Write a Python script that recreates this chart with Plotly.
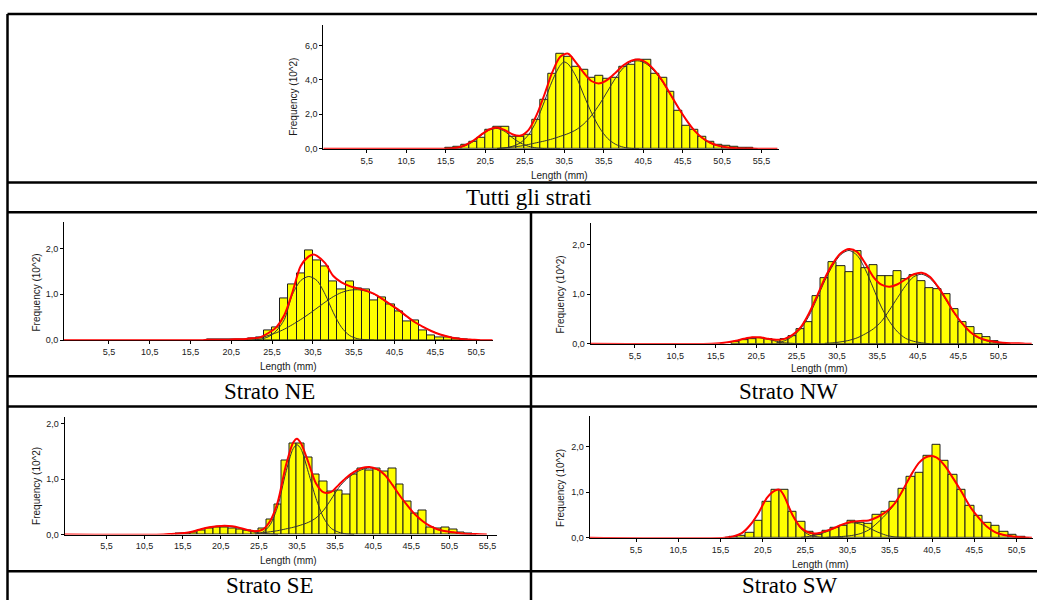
import plotly.graph_objects as go

W, H = 1037, 600

# ---------------- data (frequency in 10^2, length in mm) ----------------
# Tutti gli strati
A_LEN = list(range(16, 55))
A_FREQ = [0.04, 0.1, 0.23, 0.38, 0.62, 1.1, 1.29, 1.29, 0.72, 0.67, 0.8, 1.69, 2.87, 4.33,
          5.52, 5.35, 4.77, 4.56, 4.13, 4.23, 4.04, 4.13, 4.77, 4.85, 5.15, 5.15, 4.37, 4.13,
          3.33, 2.19, 1.35, 1.13, 0.67, 0.42, 0.25, 0.15, 0.1, 0.06, 0.05]
A_FIT_X = [0, 15, 16, 17, 18, 19, 20, 21, 22, 23, 24, 25, 26, 27, 28, 29, 30, 31, 32, 33, 34, 35,
           36, 37, 38, 39, 40, 41, 42, 43, 44, 45, 46, 47, 48, 49, 50, 51, 52, 53, 54, 55, 57.5]
A_FIT_Y = [0, 0, 0.01, 0.07, 0.22, 0.48, 0.82, 1.12, 1.24, 1.08, 0.83, 0.77, 1.1, 1.95, 3.15, 4.45,
           5.35, 5.52, 5.0, 4.4, 3.92, 3.8, 4.02, 4.42, 4.85, 5.12, 5.18, 4.98, 4.52, 3.9, 3.12,
           2.35, 1.65, 1.05, 0.62, 0.35, 0.18, 0.09, 0.04, 0.02, 0.01, 0, 0]
A_C1_X = [16, 17, 18, 19, 20, 21, 22, 23, 24, 25, 26, 27, 28, 29, 30]
A_C1_Y = [0.01, 0.05, 0.18, 0.42, 0.78, 1.08, 1.18, 1.0, 0.62, 0.33, 0.14, 0.05, 0.01, 0, 0]
A_C2_X = [22, 23, 24, 25, 26, 27, 28, 29, 30, 30.5, 31, 32, 33, 34, 35, 36, 37, 38, 39, 40]
A_C2_Y = [0.01, 0.05, 0.15, 0.36, 0.82, 1.62, 2.75, 3.95, 4.85, 5.04, 4.92, 4.2, 3.1, 2.05, 1.2,
          0.6, 0.26, 0.09, 0.02, 0]
A_C3_X = list(range(22, 56))
A_C3_Y = [0.02, 0.05, 0.1, 0.16, 0.25, 0.35, 0.45, 0.57, 0.72, 0.88, 1.1, 1.45, 1.95, 2.6, 3.35,
          4.1, 4.7, 5.05, 5.1, 4.9, 4.45, 3.85, 3.1, 2.35, 1.65, 1.05, 0.6, 0.33, 0.17, 0.08,
          0.03, 0.01, 0, 0]

# Strato NE
NE_LEN = list(range(18, 50))
NE_FREQ = [0.01, 0.01, 0.02, 0.02, 0.02, 0.03, 0.05, 0.21, 0.28, 0.92, 1.22, 1.45, 1.96, 1.74,
           1.62, 1.29, 1.1, 1.29, 1.14, 1.1, 0.86, 0.93, 0.77, 0.62, 0.41, 0.43, 0.21, 0.1,
           0.07, 0.06, 0.03, 0.01]
NE_FIT_X = [0, 17, 18, 19, 20, 21, 22, 23, 24, 25, 26, 27, 28, 29, 30, 30.6, 31, 32, 33, 34, 35,
            36, 37, 38, 39, 40, 41, 42, 43, 44, 45, 46, 47, 48, 49, 50, 51, 52.5]
NE_FIT_Y = [0, 0, 0.01, 0.01, 0.01, 0.02, 0.02, 0.04, 0.06, 0.15, 0.28, 0.55, 1.05, 1.62, 1.83,
            1.87, 1.84, 1.68, 1.4, 1.26, 1.18, 1.13, 1.08, 1.01, 0.9, 0.78, 0.66, 0.52, 0.39,
            0.29, 0.2, 0.13, 0.08, 0.04, 0.02, 0.01, 0, 0]
NE_C1_X = list(range(23, 39))
NE_C1_Y = [0, 0.02, 0.07, 0.2, 0.45, 1.0, 1.3, 1.39, 1.3, 1.0, 0.6, 0.28, 0.1, 0.03, 0.01, 0]
NE_C2_X = list(range(22, 52))
NE_C2_Y = [0.01, 0.03, 0.05, 0.1, 0.16, 0.24, 0.34, 0.45, 0.57, 0.7, 0.83, 0.95, 1.04, 1.09,
           1.1, 1.07, 1.0, 0.89, 0.77, 0.64, 0.51, 0.39, 0.29, 0.2, 0.13, 0.08, 0.04, 0.02,
           0.01, 0]

# Strato NW
NW_LEN = list(range(18, 52))
NW_FREQ = [0.03, 0.07, 0.1, 0.12, 0.1, 0.07, 0.09, 0.15, 0.29, 0.43, 0.97, 1.33, 1.65, 1.57,
           1.45, 1.87, 1.53, 1.59, 1.37, 1.37, 1.47, 1.3, 1.39, 1.27, 1.12, 1.1, 1.01, 0.69,
           0.43, 0.33, 0.2, 0.13, 0.05, 0.02]
NW_FIT_X = [0, 15] + list(range(16, 55)) + [54.6]
NW_FIT_Y = [0, 0, 0.01, 0.03, 0.06, 0.1, 0.13, 0.13, 0.1, 0.08, 0.1, 0.18, 0.33, 0.6, 0.95,
            1.32, 1.62, 1.83, 1.91, 1.85, 1.62, 1.35, 1.19, 1.15, 1.2, 1.3, 1.4, 1.43, 1.35,
            1.15, 0.9, 0.63, 0.41, 0.24, 0.13, 0.07, 0.04, 0.02, 0.01, 0.01, 0, 0]
NW_C1_X = list(range(16, 29))
NW_C1_Y = [0.01, 0.03, 0.06, 0.1, 0.13, 0.12, 0.09, 0.05, 0.02, 0.01, 0, 0, 0]
NW_C2_X = list(range(23, 43))
NW_C2_Y = [0.02, 0.06, 0.15, 0.3, 0.55, 0.9, 1.27, 1.58, 1.8, 1.88, 1.78, 1.5, 1.12, 0.74,
           0.45, 0.24, 0.11, 0.05, 0.02, 0]
NW_C3_X = list(range(29, 53))
NW_C3_Y = [0.01, 0.02, 0.04, 0.07, 0.12, 0.2, 0.3, 0.45, 0.68, 0.93, 1.17, 1.35, 1.4, 1.32,
           1.13, 0.88, 0.62, 0.4, 0.23, 0.12, 0.06, 0.03, 0.01, 0]

# Strato SE
SE_LEN = list(range(15, 54))
SE_FREQ = [0.01, 0.02, 0.04, 0.08, 0.11, 0.13, 0.13, 0.11, 0.09, 0.07, 0.05, 0.1, 0.27, 0.54,
           1.34, 1.64, 1.64, 1.39, 1.09, 0.95, 0.78, 0.79, 0.73, 1.09, 1.19, 1.16, 1.2, 1.13,
           1.19, 0.91, 0.59, 0.38, 0.44, 0.13, 0.1, 0.13, 0.09, 0.03, 0.01]
SE_FIT_X = [0, 13, 14, 15, 16, 17, 18, 19, 20, 21, 22, 23, 24, 25, 26, 27, 28, 29, 30, 30.5, 31,
            32, 33, 34, 35, 36, 37, 38, 39, 40, 41, 42, 43, 44, 45, 46, 47, 48, 49, 50, 51, 52,
            53, 54, 55.4]
SE_FIT_Y = [0, 0, 0.01, 0.02, 0.03, 0.06, 0.1, 0.13, 0.15, 0.16, 0.15, 0.12, 0.08, 0.06, 0.09,
            0.25, 0.6, 1.22, 1.66, 1.73, 1.65, 1.3, 0.92, 0.76, 0.77, 0.9, 1.03, 1.13, 1.2, 1.22,
            1.18, 1.08, 0.9, 0.7, 0.52, 0.36, 0.24, 0.15, 0.09, 0.06, 0.04, 0.02, 0.01, 0.01, 0]
SE_C1_X = list(range(14, 29))
SE_C1_Y = [0.01, 0.02, 0.03, 0.06, 0.1, 0.13, 0.15, 0.15, 0.14, 0.11, 0.07, 0.04, 0.02, 0.01, 0]
SE_C2_X = [25, 26, 27, 28, 29, 30, 30.5, 31, 32, 33, 34, 35, 36, 37, 38]
SE_C2_Y = [0.01, 0.04, 0.18, 0.52, 1.1, 1.55, 1.62, 1.55, 1.12, 0.65, 0.3, 0.11, 0.04, 0.01, 0]
SE_C3_X = list(range(26, 55))
SE_C3_Y = [0.03, 0.05, 0.07, 0.1, 0.13, 0.17, 0.22, 0.3, 0.44, 0.64, 0.85, 1.0, 1.1, 1.17, 1.2,
           1.17, 1.08, 0.9, 0.7, 0.52, 0.36, 0.24, 0.15, 0.09, 0.06, 0.04, 0.02, 0.01, 0]

# Strato SW
SW_LEN = list(range(17, 52))
SW_FREQ = [0.02, 0.05, 0.1, 0.38, 0.78, 1.04, 1.04, 0.56, 0.36, 0.12, 0.07, 0.16, 0.21, 0.27,
           0.38, 0.33, 0.3, 0.5, 0.56, 0.78, 1.07, 1.34, 1.43, 1.8, 2.03, 1.68, 1.37, 1.04, 0.7,
           0.48, 0.33, 0.27, 0.14, 0.07, 0.03]
SW_FIT_X = [0, 16, 17, 18, 19, 20, 21, 22, 22.5, 23, 24, 25, 26, 27, 28, 29, 30, 31, 32, 33, 34,
            35, 36, 37, 38, 39, 40, 41, 42, 43, 44, 45, 46, 47, 48, 49, 50, 51, 52.3]
SW_FIT_Y = [0, 0, 0.03, 0.1, 0.28, 0.55, 0.88, 1.04, 1.05, 0.92, 0.5, 0.22, 0.11, 0.1, 0.15,
            0.22, 0.3, 0.35, 0.37, 0.38, 0.45, 0.56, 0.73, 1.03, 1.37, 1.65, 1.78, 1.76, 1.58,
            1.3, 1.0, 0.68, 0.44, 0.24, 0.12, 0.06, 0.03, 0.01, 0]
SW_C1_X = [16, 17, 18, 19, 20, 21, 22, 22.5, 23, 24, 25, 26, 27, 28, 29, 30]
SW_C1_Y = [0.01, 0.03, 0.1, 0.28, 0.55, 0.88, 1.04, 1.05, 0.92, 0.5, 0.2, 0.06, 0.02, 0, 0, 0]
SW_C2_X = list(range(25, 39))
SW_C2_Y = [0.01, 0.03, 0.07, 0.13, 0.21, 0.29, 0.33, 0.3, 0.22, 0.13, 0.06, 0.02, 0.01, 0]
SW_C3_X = list(range(28, 53))
SW_C3_Y = [0.01, 0.02, 0.03, 0.05, 0.09, 0.17, 0.32, 0.5, 0.72, 1.02, 1.37, 1.65, 1.78, 1.76,
           1.58, 1.3, 1.0, 0.68, 0.44, 0.24, 0.12, 0.06, 0.03, 0.01, 0]

CAPTIONS = ["Tutti gli strati", "Strato NE", "Strato NW", "Strato SE", "Strato SW"]
X_TITLE = "Length (mm)"
Y_TITLE = "Frequency (10^2)"

# ---------------- layout helpers ----------------
def px_x(x):
    return x / W


def px_y(y):
    return 1 - y / H


panels = [
    dict(l=A_LEN, f=A_FREQ, fit=(A_FIT_X, A_FIT_Y),
         comps=[(A_C1_X, A_C1_Y), (A_C2_X, A_C2_Y), (A_C3_X, A_C3_Y)],
         box=(323.3, 779, 150, 25), xmax=57.7, ymax=7.2, dt=2,
         ytx=293.5, yty=98, xtx=559, xty=177, cap=(529, 199)),
    dict(l=NE_LEN, f=NE_FREQ, fit=(NE_FIT_X, NE_FIT_Y),
         comps=[(NE_C1_X, NE_C1_Y), (NE_C2_X, NE_C2_Y)],
         box=(64, 493.3, 343, 224.3), xmax=52.6, ymax=2.57, dt=1,
         ytx=37, yty=295, xtx=288, xty=369.5, cap=(269, 395)),
    dict(l=NW_LEN, f=NW_FREQ, fit=(NW_FIT_X, NW_FIT_Y),
         comps=[(NW_C1_X, NW_C1_Y), (NW_C2_X, NW_C2_Y), (NW_C3_X, NW_C3_Y)],
         box=(590.5, 1033.3, 346.7, 225), xmax=54.8, ymax=2.43, dt=1,
         ytx=561, yty=297, xtx=819.5, xty=372, cap=(788, 395)),
    dict(l=SE_LEN, f=SE_FREQ, fit=(SE_FIT_X, SE_FIT_Y),
         comps=[(SE_C1_X, SE_C1_Y), (SE_C2_X, SE_C2_Y), (SE_C3_X, SE_C3_Y)],
         box=(64.5, 496.7, 539, 420), xmax=56.7, ymax=2.13, dt=1,
         ytx=37, yty=490, xtx=288.5, xty=565, cap=(270, 590)),
    dict(l=SW_LEN, f=SW_FREQ, fit=(SW_FIT_X, SW_FIT_Y),
         comps=[(SW_C1_X, SW_C1_Y), (SW_C2_X, SW_C2_Y), (SW_C3_X, SW_C3_Y)],
         box=(589.5, 1032.7, 542.3, 419.3), xmax=52.4, ymax=2.67, dt=1,
         ytx=561, yty=492, xtx=820, xty=569, cap=(789, 590)),
]

fig = go.Figure()
annotations = []
TICKFONT = dict(family="Liberation Sans, Arial, sans-serif", size=9, color="#1a1a1a")
TITLEFONT = dict(family="Liberation Sans, Arial, sans-serif", size=10, color="#1a1a1a")
CAPFONT = dict(family="Liberation Serif, Times New Roman, serif", size=23, color="#000")

for i, p in enumerate(panels, start=1):
    xa = "x" if i == 1 else f"x{i}"
    ya = "y" if i == 1 else f"y{i}"
    fig.add_trace(go.Bar(x=p["l"], y=p["f"], width=1, xaxis=xa, yaxis=ya,
                         marker=dict(color="#FFFF00", line=dict(color="#1e1e1e", width=1)),
                         showlegend=False, hoverinfo="skip"))
    for cx, cy in p["comps"]:
        fig.add_trace(go.Scatter(x=cx, y=cy, mode="lines", xaxis=xa, yaxis=ya,
                                 line=dict(color="#333333", width=1, shape="spline", smoothing=0.8),
                                 showlegend=False, hoverinfo="skip"))
    fx, fy = p["fit"]
    fig.add_trace(go.Scatter(x=fx, y=fy, mode="lines", xaxis=xa, yaxis=ya,
                             line=dict(color="#FF0000", width=2, shape="spline", smoothing=0.8),
                             showlegend=False, hoverinfo="skip"))
    x0, x1, yb, yt = p["box"]
    xticks = [v + 0.5 for v in range(5, int(p["xmax"]), 5)]
    axx = dict(domain=[px_x(x0), px_x(x1)], range=[0, p["xmax"]], anchor=ya,
               showline=True, linecolor="#000", linewidth=1, showgrid=False, zeroline=False,
               tickvals=xticks, tickformat=".1f", ticks="outside", ticklen=3,
               tickcolor="#000", tickfont=TICKFONT, layer="below traces", fixedrange=True)
    axy = dict(domain=[px_y(yb), px_y(yt)], range=[0, p["ymax"]], anchor=xa,
               showline=True, linecolor="#000", linewidth=1, showgrid=False, zeroline=False,
               tick0=0, dtick=p["dt"], tickformat=".1f", ticks="outside", ticklen=3,
               tickcolor="#000", tickfont=TICKFONT, layer="below traces", fixedrange=True)
    key = "" if i == 1 else str(i)
    fig.update_layout(**{f"xaxis{key}": axx, f"yaxis{key}": axy})
    annotations.append(dict(x=px_x(p["xtx"]), y=px_y(p["xty"]), xref="paper", yref="paper",
                            text=X_TITLE, showarrow=False, font=TITLEFONT,
                            xanchor="center", yanchor="middle"))
    annotations.append(dict(x=px_x(p["ytx"]), y=px_y(p["yty"]), xref="paper", yref="paper",
                            text=Y_TITLE, showarrow=False, font=TITLEFONT, textangle=-90,
                            xanchor="center", yanchor="middle"))
    annotations.append(dict(x=px_x(p["cap"][0]), y=px_y(p["cap"][1]), xref="paper", yref="paper",
                            text=CAPTIONS[i - 1], showarrow=False, font=CAPFONT,
                            xanchor="center", yanchor="middle"))

# table frame lines
LW = 2.5
lines = [
    (7.5, 14, W + 5, 14),
    (7.5, 14, 7.5, H + 5),
    (7.5, 184, W + 5, 184),
    (7.5, 214, W + 5, 214),
    (531, 214, 531, H + 5),
    (7.5, 379.5, W + 5, 379.5),
    (7.5, 410, W + 5, 410),
    (7.5, 576, W + 5, 576),
]
shapes = [dict(type="line", xref="paper", yref="paper",
               x0=px_x(a), y0=px_y(b), x1=px_x(c), y1=px_y(d),
               line=dict(color="#000", width=LW)) for a, b, c, d in lines]

fig.update_layout(width=W, height=H, autosize=False,
                  margin=dict(l=0, r=0, t=0, b=0, pad=0),
                  paper_bgcolor="#FFFFFF", plot_bgcolor="#FFFFFF",
                  separators=",.", bargap=0, barmode="overlay",
                  annotations=annotations, shapes=shapes, showlegend=False)

fig.write_html("out.html", config={"displayModeBar": False})
